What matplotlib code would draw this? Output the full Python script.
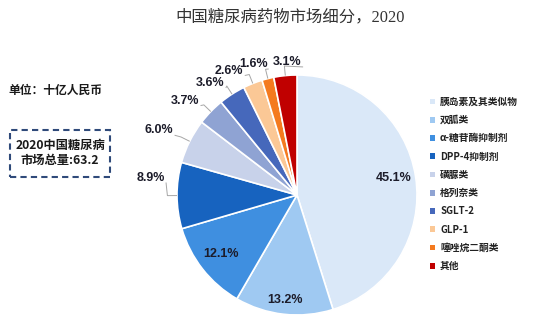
import numpy as np
import matplotlib
matplotlib.use("Agg")
import matplotlib.pyplot as plt
from matplotlib.patches import Patch, Rectangle

# Market share by drug class, 2020 (%)
categories = ["胰岛素及其类似物", "双胍类", "α-糖苷酶抑制剂", "DPP-4抑制剂", "磺脲类",
              "格列奈类", "SGLT-2", "GLP-1", "噻唑烷二酮类", "其他"]
shares = [45.1, 13.2, 12.1, 8.9, 6.0, 3.7, 3.6, 2.6, 1.6, 3.1]
pct_labels = ["45.1%", "13.2%", "12.1%", "8.9%", "6.0%", "3.7%", "3.6%", "2.6%", "1.6%", "3.1%"]
total_text = "2020中国糖尿病\n市场总量:63.2"
unit_text = "单位：十亿人民币"
title_text = "中国糖尿病药物市场细分，2020"

colors = ["#dae8f8", "#9fc9f2", "#3f8fe0", "#1763bf", "#c8d2ea",
          "#8fa3d3", "#4668bb", "#fbc896", "#f47a1f", "#c00000"]

# label placement: (radius, angle offset in degrees, inside?)
label_style = [(0.82, 1.5, True), (0.88, 0.0, True), (0.80, 0.0, True),
               (1.23, -7.0, False), (1.27, 1.5, False), (1.22, 4.0, False),
               (1.18, 5.0, False), (1.18, 7.0, False), (1.15, 4.5, False),
               (1.11, -1.5, False)]

W, H = 542, 324
fig = plt.figure(figsize=(W / 100, H / 100), dpi=100)
fig.patch.set_facecolor("white")

cx, cy, r = 297, 195, 120
ax = fig.add_axes([(cx - r) / W, (H - cy - r) / H, 2 * r / W, 2 * r / H])

wedges, _ = ax.pie(shares, colors=colors, startangle=90, counterclock=False,
                   wedgeprops=dict(edgecolor="white", linewidth=1.2))
ax.set_xlim(-1, 1)
ax.set_ylim(-1, 1)
ax.set_aspect("equal")
ax.axis("off")

pct_font = dict(family=["Liberation Sans", "DejaVu Sans"], fontweight="bold",
                fontsize=9, color="#1c1c2a")

for w, lab, (rad, off, inside) in zip(wedges, pct_labels, label_style):
    mid = np.deg2rad((w.theta1 + w.theta2) / 2)
    ang = mid + np.deg2rad(off)
    tx, ty = rad * np.cos(ang), rad * np.sin(ang)
    ax.text(tx, ty, lab, ha="center", va="center", clip_on=False, **pct_font)
    if not inside:
        # leader line from wedge rim to the label
        x0, y0 = 1.0 * np.cos(mid), 1.0 * np.sin(mid)
        x1, y1 = 1.08 * np.cos(mid), 1.08 * np.sin(mid)
        lx = tx + (0.13 if tx < 0 else -0.13)
        ly = ty - 0.04
        ax.plot([x0, x1, lx], [y0, y1, ly], color="#a6a6a6", lw=0.7,
                clip_on=False, solid_capstyle="butt")

# title
fig.text(290 / W, 1 - 17 / H, title_text, ha="center", va="center",
         family=["Liberation Serif", "Noto Sans CJK SC"], fontsize=11.8, color="#333333")

# unit note
fig.text(8 / W, 1 - 90 / H, unit_text, ha="left", va="center",
         family=["Noto Sans CJK SC", "DejaVu Sans"], fontweight="bold",
         fontsize=8.5, color="#1a1a1a")

# dashed total box
box = Rectangle((10 / W, 1 - 177 / H), 100 / W, 47 / H, transform=fig.transFigure,
                fill=False, edgecolor="#2f4a7a", linewidth=1.5, linestyle=(0, (3, 2)))
fig.patches.append(box)
fig.text(60 / W, 1 - 153 / H, total_text, ha="center", va="center",
         family=["Noto Sans CJK SC", "DejaVu Sans"], fontweight="bold",
         fontsize=8.8, color="#1a1a1a", linespacing=1.2)

# legend
handles = [Patch(facecolor=c, edgecolor="none") for c in colors]
leg = fig.legend(handles, categories, loc="upper left",
                 bbox_to_anchor=(426 / W, 1 - 93 / H), frameon=False,
                 handlelength=0.55, handleheight=0.55, handletextpad=0.5,
                 labelspacing=0.85, borderaxespad=0,
                 prop=dict(family=["Noto Sans CJK SC", "DejaVu Sans"],
                           weight="bold", size=7))
for t in leg.get_texts():
    t.set_color("#222222")

fig.savefig("out.png", dpi=100, facecolor="white")
